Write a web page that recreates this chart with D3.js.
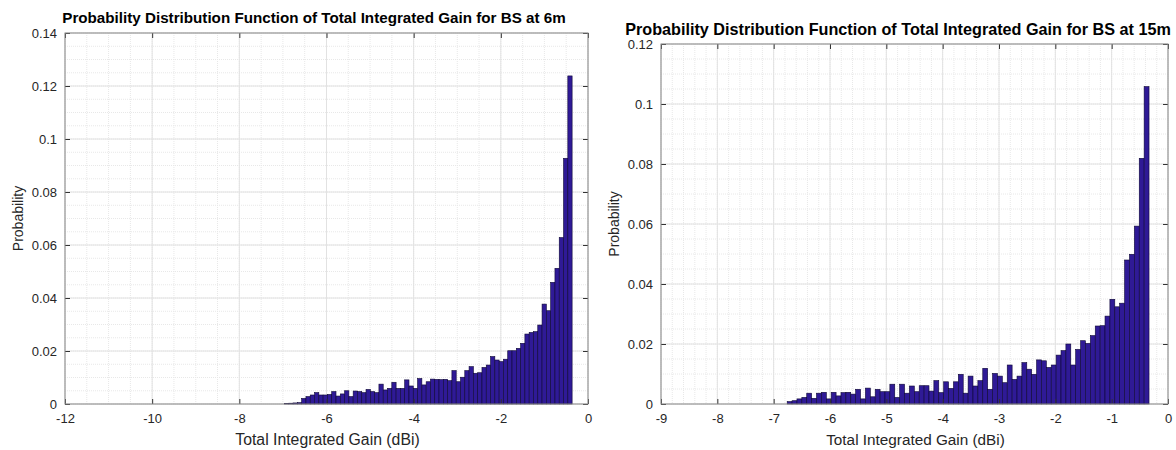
<!DOCTYPE html>
<html>
<head>
<meta charset="utf-8">
<script src="https://cdn.jsdelivr.net/npm/d3@7"></script>
<style>
  body { margin: 0; background: #fff; }
  svg { display: block; font-family: "Liberation Sans", Arial, Helvetica, sans-serif; }
</style>
</head>
<body>
<svg id="chart" width="1176" height="450"></svg>
<script>
// histogram heights, left = BS at 6m
const leftBinStart = -6.964;
const leftBinWidth = 0.0985;
const leftValues = [
  0.0002, 0.0003, 0.0004, 0.0005,
  0.0021, 0.0028, 0.0034, 0.0043, 0.0034, 0.0034, 0.0036, 0.0047, 0.0030, 0.0038,
  0.0050, 0.0028, 0.0049, 0.0047, 0.0043, 0.0055, 0.0047, 0.0043, 0.0075, 0.0053,
  0.0059, 0.0082, 0.0059, 0.0059, 0.0091, 0.0068, 0.0059, 0.0096, 0.0072, 0.0084,
  0.0094, 0.0093, 0.0092, 0.0093, 0.0088, 0.0126, 0.0084, 0.0101, 0.0126, 0.0141,
  0.0116, 0.0118, 0.0138, 0.0147, 0.0179, 0.0166, 0.0160, 0.0169, 0.0201, 0.0201,
  0.0210, 0.0229, 0.0264, 0.0270, 0.0273, 0.0298, 0.0377, 0.0352, 0.0459, 0.0512,
  0.0628, 0.0927, 0.1238
];
const leftXTicks = [-12, -10, -8, -6, -4, -2, 0];
const leftYTicks = [0, 0.02, 0.04, 0.06, 0.08, 0.1, 0.12, 0.14];

// right = BS at 15m
const rightBinStart = -6.76;
const rightBinWidth = 0.0868;
const rightValues = [
  0.0008, 0.0011, 0.0017, 0.0022, 0.0036, 0.0019, 0.0036, 0.0039, 0.0017, 0.0039,
  0.0027, 0.0038, 0.0039, 0.0033, 0.0049, 0.0017, 0.0053, 0.0024, 0.0049, 0.0041,
  0.0041, 0.0066, 0.0022, 0.0066, 0.0036, 0.0060, 0.0041, 0.0061, 0.0061, 0.0043,
  0.0078, 0.0038, 0.0074,
  0.0052, 0.0074, 0.0099, 0.0036, 0.0093, 0.0060, 0.0078, 0.0119, 0.0049, 0.0102,
  0.0093, 0.0071, 0.0130, 0.0082, 0.0093, 0.0138, 0.0116, 0.0099, 0.0147, 0.0144,
  0.0122, 0.0130, 0.0163, 0.0178, 0.0200, 0.0130, 0.0182, 0.0211, 0.0202, 0.0228,
  0.0260, 0.0261, 0.0293, 0.0349, 0.0324, 0.0336, 0.0480, 0.0499, 0.0593, 0.0819,
  0.1058
];
const rightXTicks = [-9, -8, -7, -6, -5, -4, -3, -2, -1, 0];
const rightYTicks = [0, 0.02, 0.04, 0.06, 0.08, 0.1, 0.12];

const svg = d3.select("#chart");
const fmt = d => String(+d.toFixed(2));

function drawPanel(p) {
  const x = d3.scaleLinear().domain(p.xDomain).range([p.left, p.right]);
  const y = d3.scaleLinear().domain(p.yDomain).range([p.bottom, p.top]);
  const g = svg.append("g");

  // minor grid (dotted) then major grid
  const minorX = d3.range(p.xDomain[0], p.xDomain[1] + 1e-9, p.xMinor);
  const minorY = d3.range(p.yDomain[0], p.yDomain[1] + 1e-9, p.yMinor);
  g.append("g").selectAll("line").data(minorX).join("line")
    .attr("x1", d => x(d)).attr("x2", d => x(d))
    .attr("y1", p.top).attr("y2", p.bottom)
    .attr("stroke", "#e8e8e8").attr("stroke-dasharray", "1,1");
  g.append("g").selectAll("line").data(minorY).join("line")
    .attr("y1", d => y(d)).attr("y2", d => y(d))
    .attr("x1", p.left).attr("x2", p.right)
    .attr("stroke", "#e8e8e8").attr("stroke-dasharray", "1,1");
  g.append("g").selectAll("line").data(p.xTicks).join("line")
    .attr("x1", d => x(d)).attr("x2", d => x(d))
    .attr("y1", p.top).attr("y2", p.bottom)
    .attr("stroke", "#e2e2e2");
  g.append("g").selectAll("line").data(p.yTicks).join("line")
    .attr("y1", d => y(d)).attr("y2", d => y(d))
    .attr("x1", p.left).attr("x2", p.right)
    .attr("stroke", "#e2e2e2");

  // bars
  g.append("g").selectAll("rect").data(p.values).join("rect")
    .attr("x", (d, i) => x(p.binStart + i * p.binWidth))
    .attr("width", x(p.binStart + p.binWidth) - x(p.binStart))
    .attr("y", d => y(d))
    .attr("height", d => y(0) - y(d))
    .attr("fill", "#2f1a96")
    .attr("stroke", "#0e0735")
    .attr("stroke-width", 0.6);

  // axes: ticks inside, box all round
  const tl = 5;
  const xb = g.append("g").attr("transform", `translate(0,${p.bottom})`)
    .call(d3.axisBottom(x).tickValues(p.xTicks).tickFormat(fmt).tickSizeInner(-tl).tickSizeOuter(0).tickPadding(10));
  const xt = g.append("g").attr("transform", `translate(0,${p.top})`)
    .call(d3.axisTop(x).tickValues(p.xTicks).tickFormat("").tickSizeInner(-tl).tickSizeOuter(0));
  const yl = g.append("g").attr("transform", `translate(${p.left},0)`)
    .call(d3.axisLeft(y).tickValues(p.yTicks).tickFormat(fmt).tickSizeInner(-tl).tickSizeOuter(0).tickPadding(8));
  const yr = g.append("g").attr("transform", `translate(${p.right},0)`)
    .call(d3.axisRight(y).tickValues(p.yTicks).tickFormat("").tickSizeInner(-tl).tickSizeOuter(0));
  [xb, xt, yl, yr].forEach(a => {
    a.select(".domain").remove();
    a.selectAll("line").attr("stroke", "#333");
    a.selectAll("text").attr("fill", "#262626").style("font-size", "13px")
      .style("font-family", "'Liberation Sans', Arial, sans-serif");
  });
  g.append("rect")
    .attr("x", p.left).attr("y", p.top)
    .attr("width", p.right - p.left).attr("height", p.bottom - p.top)
    .attr("fill", "none").attr("stroke", "#8a8a8a");

  g.append("text")
    .attr("x", p.titleX).attr("y", p.titleY)
    .attr("text-anchor", "middle")
    .style("font-size", p.titleSize).style("font-weight", "bold")
    .text(p.title);
  g.append("text")
    .attr("x", (p.left + p.right) / 2 + 1).attr("y", 445)
    .attr("text-anchor", "middle").attr("fill", "#262626")
    .style("font-size", p.xLabelSize)
    .text("Total Integrated Gain (dBi)");
  g.append("text")
    .attr("transform", `translate(${p.yLabelX},${(p.top + p.bottom) / 2}) rotate(-90)`)
    .attr("text-anchor", "middle").attr("fill", "#262626")
    .style("font-size", "14px")
    .text("Probability");
}

drawPanel({
  left: 65, right: 588, top: 33, bottom: 404,
  xDomain: [-12, 0], yDomain: [0, 0.14], xMinor: 0.5, yMinor: 0.005,
  xTicks: leftXTicks, yTicks: leftYTicks,
  values: leftValues, binStart: leftBinStart, binWidth: leftBinWidth,
  title: "Probability Distribution Function of Total Integrated Gain for BS at 6m",
  titleX: 314, titleY: 23, titleSize: "15.2px", xLabelSize: "15.8px", yLabelX: 23
});

drawPanel({
  left: 661, right: 1168, top: 44, bottom: 404,
  xDomain: [-9, 0], yDomain: [0, 0.12], xMinor: 0.2, yMinor: 0.005,
  xTicks: rightXTicks, yTicks: rightYTicks,
  values: rightValues, binStart: rightBinStart, binWidth: rightBinWidth,
  title: "Probability Distribution Function of Total Integrated Gain for BS at 15m",
  titleX: 898, titleY: 35, titleSize: "16.2px", xLabelSize: "15.3px", yLabelX: 619
});
</script>
</body>
</html>
